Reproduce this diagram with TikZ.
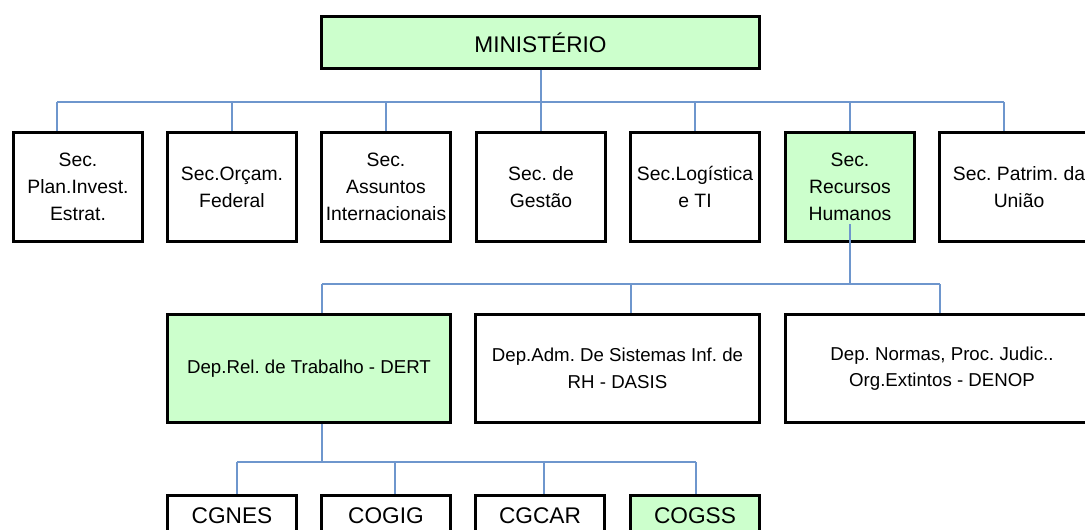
\documentclass[tikz,border=0pt]{standalone}
\usepackage{fontspec}
\setmainfont{Liberation Sans}
\usetikzlibrary{positioning, calc}
\definecolor{linkblue}{RGB}{110,150,205}
\definecolor{palegreen}{RGB}{204,255,204}
\tikzset{%
	box/.style={draw, rectangle, line width=2.2pt, align=center, inner sep=0mm,%
		minimum width=96.75pt, minimum height=81.75pt, font=\fontsize{14.5}{20.25}\selectfont},
	hl/.style={fill=palegreen},
	dep/.style={box, minimum height=81pt, font=\fontsize{14}{20}\selectfont},
	unit/.style={box, minimum height=30.75pt, font=\fontsize{17}{20}\selectfont},
	link/.style={draw=linkblue, line width=1.3pt}
}
\frenchspacing

\begin{document}
\begin{tikzpicture}[x=0.75pt, y=-0.75pt]
	\useasboundingbox (0,0) rectangle (1085,529);

	\node[box, hl, minimum width=328.5pt, minimum height=39pt, font=\fontsize{17}{20}\selectfont] (min) at (540.5,42.5) {MINISTÉRIO};

	\node[box] (planinv) at (78,187) {Sec.\\Plan.Invest.\\Estrat.};
	\node[box] (orcam) at (232,187) {Sec.Orçam.\\Federal};
	\node[box] (assint) at (386,187) {Sec.\\Assuntos\\Internacionais};
	\node[box] (gestao) at (541,187) {Sec. de\\Gestão};
	\node[box] (logti) at (695,187) {Sec.Logística\\e TI};
	\node[box, hl] (rechum) at (850,187) {Sec.\\Recursos\\Humanos};
	\node[box, minimum width=119pt] (patrim) at (1019,187) {Sec. Patrim. da\\União};

	\node[dep, hl, minimum width=212.25pt] (dert) at (309,368.5) {Dep.Rel. de Trabalho - DERT};
	\node[dep, minimum width=213pt] (dasis) at (617.5,368.5) {Dep.Adm. De Sistemas Inf. de\\RH - DASIS};
	\node[dep, minimum width=234.75pt] (denop) at (942,368.5) {Dep. Normas, Proc. Judic..\\Org.Extintos - DENOP};

	\node[unit] (cgnes) at (232,516) {CGNES};
	\node[unit] (cogig) at (386,516) {COGIG};
	\node[unit] (cgcar) at (540,516) {CGCAR};
	\node[unit, hl] (cogss) at (695,516) {COGSS};

	% bus lines
	\coordinate (b1l) at (57,102);
	\coordinate (b1r) at (1004,102);
	\coordinate (b2l) at (322,284);
	\coordinate (b2m) at (631,284);
	\coordinate (b2r) at (940,284);
	\coordinate (b3l) at (237,462);
	\coordinate (b3r) at (696,462);

	\draw[link] (min.south -| gestao) -- (gestao);
	\draw[link] (b1l) -- (b1r);
	\draw[link] (b1l) -- (b1l |- planinv.north);
	\draw[link] (orcam.north |- b1l) -- (orcam.north);
	\draw[link] (assint.north |- b1l) -- (assint.north);
	\draw[link] (logti.north |- b1l) -- (logti.north);
	\draw[link] (rechum.north |- b1l) -- (rechum.north);
	\draw[link] (b1r) -- (b1r |- patrim.north);

	\draw[link] ([yshift=-28pt]rechum.center) -- (rechum.center |- b2l);
	\draw[link] (b2l) -- (b2r);
	\draw[link] (b2l) -- (b2l |- dert.north);
	\draw[link] (b2m) -- (b2m |- dasis.north);
	\draw[link] (b2r) -- (b2r |- denop.north);

	\draw[link] (b2l |- dert.south) -- (b2l |- b3l);
	\draw[link] (b3l) -- (b3r);
	\draw[link] (b3l) -- (b3l |- cgnes.north);
	\draw[link] ([xshift=6.75pt]cogig.north |- b3l) -- ([xshift=6.75pt]cogig.north);
	\draw[link] ([xshift=3pt]cgcar.north |- b3l) -- ([xshift=3pt]cgcar.north);
	\draw[link] (b3r) -- (b3r |- cogss.north);
\end{tikzpicture}
\end{document}
